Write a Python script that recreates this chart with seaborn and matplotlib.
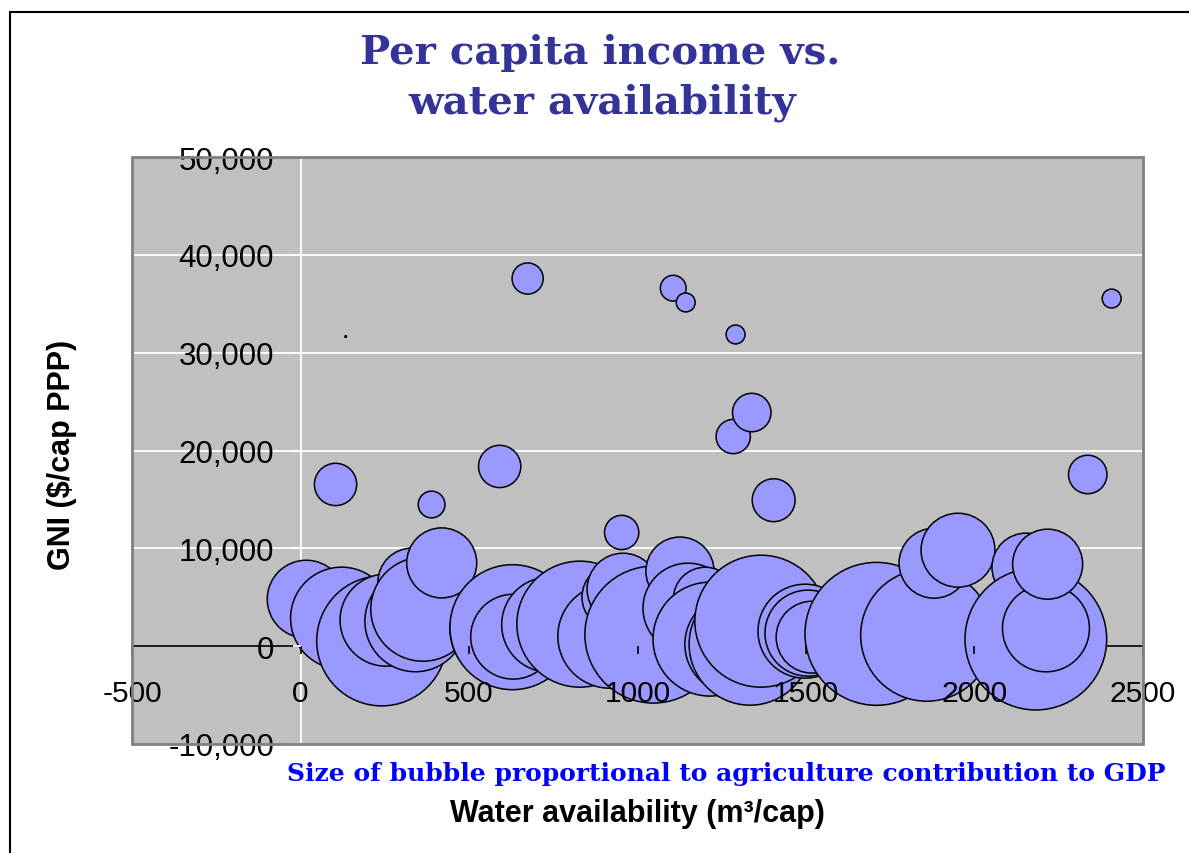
import numpy as np
import pandas as pd
import matplotlib
matplotlib.use("Agg")
import matplotlib.pyplot as plt
import seaborn as sns
from matplotlib.patches import Rectangle
from matplotlib.lines import Line2D

# water availability (m3/cap), GNI ($/cap PPP), agriculture share of GDP (bubble size)
water = [17, 104, 122, 134, 241, 254, 331, 341, 363, 389, 419, 591, 607, 629, 631,
         674, 738, 829, 918, 933, 953, 957, 1047, 1106, 1126, 1143, 1150, 1201, 1215,
         1284, 1289, 1291, 1334, 1339, 1366, 1404, 1497, 1506, 1518, 1709, 1858, 1880,
         1951, 2153, 2182, 2212, 2217, 2336, 2407]
gni = [4800, 16530, 2860, 31650, 540, 2660, 6540, 2550, 3780, 14480, 8510, 18370, 1740,
       1940, 970, 37580, 2200, 2250, 1020, 5010, 11620, 5830, 1180, 36590, 7670, 35130,
       3880, 4800, 720, 21430, 200, 31860, 200, 23880, 2555, 14920, 1530, 1330, 920,
       1260, 1120, 8480, 9810, 8070, 720, 1820, 8380, 17550, 35530]
agri = [11.9, 3.5, 20.4, 0.005, 33.1, 16.6, 9.1, 20.0, 21.2, 1.4, 9.6, 3.5, 23.7,
        30.6, 14.1, 1.9, 17.7, 31.1, 21.2, 8.5, 2.3, 10.1, 36.7, 1.3, 9.1, 0.7,
        15.9, 8.0, 25.4, 2.3, 19.6, 0.7, 29.1, 2.9, 34.1, 3.6, 17.3, 14.5, 10.1,
        40.0, 34.1, 9.6, 10.7, 9.1, 39.3, 14.8, 9.6, 2.9, 0.7]

x_ticks = [-500, 0, 500, 1000, 1500, 2000, 2500]
y_ticks = [-10000, 0, 10000, 20000, 30000, 40000, 50000]
y_tick_labels = ["-10,000", "0", "10,000", "20,000", "30,000", "40,000", "50,000"]

df = pd.DataFrame({"water": water, "gni": gni, "agri": agri})

sns.set_theme(style="white")
plt.rcParams["font.family"] = ["Liberation Sans", "DejaVu Sans"]

fig = plt.figure(figsize=(11.89, 8.54), dpi=100)
ax = fig.add_axes([132 / 1189, 1 - 745 / 854, 1011 / 1189, 587 / 854])
ax.set_facecolor("#C0C0C0")

# horizontal gridlines behind the bubbles
for yv in y_ticks[2:-1]:
    ax.axhline(yv, color="white", lw=1.3, zorder=0.5)

# bubble area proportional to agriculture share (Excel style)
size_max = 40.0
s_max = (1.44 * 11.3) ** 2 * size_max
sns.scatterplot(data=df, x="water", y="gni", size="agri", sizes=(0, s_max),
                size_norm=(0, size_max), color="#9999FF", edgecolor="black",
                linewidth=1.1, alpha=1, legend=False, ax=ax, zorder=2)

ax.set_xlim(-500, 2500)
ax.set_ylim(-10000, 50000)
ax.set_xticks(x_ticks)
ax.set_xticklabels([str(v) for v in x_ticks])
ax.set_yticks(y_ticks)
ax.set_yticklabels(y_tick_labels)
ax.set_xlabel("")
ax.set_ylabel("")

ax.spines["left"].set_position(("data", 0))
ax.spines["left"].set_color("white")
ax.spines["left"].set_linewidth(1.3)
ax.spines["left"].set_zorder(1)
ax.spines["bottom"].set_position(("data", 0))
ax.spines["bottom"].set_color("black")
ax.spines["bottom"].set_linewidth(1.2)
ax.spines["bottom"].set_zorder(1)
ax.spines["top"].set_visible(False)
ax.spines["right"].set_visible(False)

ax.tick_params(axis="x", direction="out", length=6, width=1.2, color="black",
               labelsize=21.5, pad=18, labelcolor="black", bottom=True)
ax.tick_params(axis="y", direction="out", length=6, width=1.3, color="white",
               labelsize=22.5, pad=13, labelcolor="black", left=True)
ax.xaxis.set_zorder(3)
ax.yaxis.set_zorder(3)

ax.add_patch(Rectangle((0, 0), 1, 1, transform=ax.transAxes, fill=False,
                       edgecolor="#808080", lw=2, zorder=4, clip_on=False))

# outer frame (top and left edges)
fig.add_artist(Line2D([10 / 1189, 1], [1 - 13 / 854] * 2, transform=fig.transFigure,
                      color="black", lw=1.5))
fig.add_artist(Line2D([10 / 1189] * 2, [0, 1 - 13 / 854], transform=fig.transFigure,
                      color="black", lw=1.5))

serif = ["DejaVu Serif"]
fig.text(600 / 1189, 1 - 64 / 854, "Per capita income vs.", ha="center", va="baseline",
         fontsize=29, family=serif, weight="bold", color="#333399")
fig.text(602 / 1189, 1 - 113 / 854, "water availability", ha="center", va="baseline",
         fontsize=29, family=serif, weight="bold", color="#333399")
fig.text(726 / 1189, 1 - 781 / 854,
         "Size of bubble proportional to agriculture contribution to GDP",
         ha="center", va="baseline", fontsize=18, family=serif, weight="bold",
         color="#0000FF")
fig.text(637 / 1189, 1 - 822 / 854, "Water availability (m³/cap)", ha="center",
         va="baseline", fontsize=22, weight="bold", color="black")
fig.text(62 / 1189, 1 - 455 / 854, "GNI ($/cap PPP)", ha="center", va="center",
         rotation=90, fontsize=22, weight="bold", color="black")

fig.savefig("out.png", dpi=100, facecolor="white")
